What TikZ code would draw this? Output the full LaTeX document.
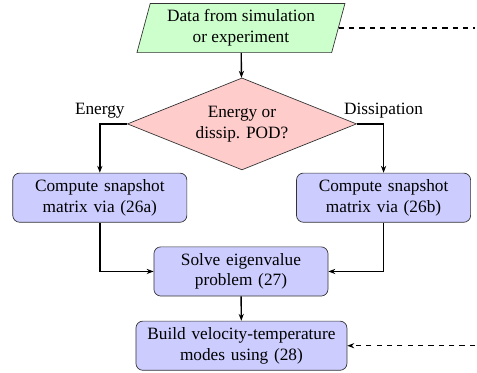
\documentclass[tikz,border=0pt]{standalone}
\usepackage{fontspec}
\setmainfont{Liberation Serif}
\usetikzlibrary{arrows.meta, positioning, shapes.geometric}

\tikzset{
  procbox/.style={draw=black!80, fill=blue!20, rounded corners=4pt, align=center,
    minimum height=1cm, text width=#1, inner sep=2pt, thin},
  inbox/.style={draw=black!80, fill=green!20, trapezium, trapezium left angle=73,
    trapezium right angle=107, trapezium stretches body, align=center,
    minimum height=1cm, minimum width=4.23cm, inner sep=2pt, thin},
  choicebox/.style={draw=black!80, fill=red!20, diamond, aspect=2.49, align=center,
    minimum width=4.66cm, minimum height=1.87cm, inner sep=0pt, thin},
  flow/.style={->, thick},
  link/.style={thick, dashed}
}

\begin{document}
\begin{tikzpicture}[>={Stealth[length=4pt]}]
    \useasboundingbox (0,0) rectangle (9.7,-7.565);

    % --- Nodes ---
    \node[inbox] (data) at (4.90,-0.57) {Data from simulation\\or experiment};
    \node[choicebox] (choice) at (4.92,-2.52) {Energy or\\dissip. POD?};
    \node[procbox=3.4cm] (snapE) at (2.03,-4.02) {Compute snapshot\\matrix via (26a)};
    \node[procbox=3.4cm] (snapD) at (7.80,-4.02) {Compute snapshot\\matrix via (26b)};
    \node[procbox=3.4cm] (eig) at (4.90,-5.52) {Solve eigenvalue\\problem (27)};
    \node[procbox=4.15cm] (modes) at (4.91,-7.03) {Build velocity-temperature\\modes using (28)};

    % --- Free ends of the dashed links ---
    \coordinate (outA) at (9.66,0 |- data.east);
    \coordinate (outB) at (9.66,0 |- modes.east);

    % --- Branch labels ---
    \node[above] (lblE) at (snapE.north |- choice.west) {Energy};
    \node[above] (lblD) at (snapD.north |- choice.east) {Dissipation};

    % --- Arrows ---
    \draw[flow] (data) -- (choice);
    \draw[flow] (choice.west) -| (snapE.north);
    \draw[flow] (choice.east) -| (snapD.north);
    \draw[flow] (snapE.south) |- (eig.west);
    \draw[flow] (snapD.south) |- (eig.east);
    \draw[flow] (eig) -- (modes);

    % --- Dashed links ---
    \draw[link] (data.east) -- (outA);
    \draw[link, ->] (outB) -- (modes.east);
\end{tikzpicture}
\end{document}
